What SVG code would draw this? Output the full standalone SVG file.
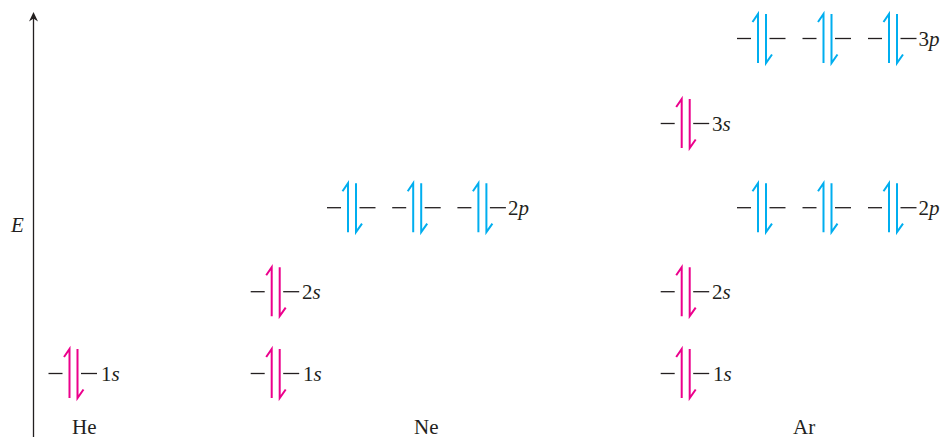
<svg xmlns="http://www.w3.org/2000/svg" xmlns:xlink="http://www.w3.org/1999/xlink" width="948" height="439" viewBox="0 0 948 439">
<style>
  .dash{stroke:#231F20;stroke-width:1.3;fill:none}
  .arr{fill:none;stroke:currentColor;stroke-width:2;stroke-linejoin:miter;stroke-miterlimit:10;stroke-linecap:butt}
  .s{color:#EC008C}
  .p{color:#00AEEF}
  .lbl{font-family:"Liberation Serif","Times New Roman",serif;font-size:21px;fill:#231F20}
  .it{font-style:italic}
  .axis{stroke:#231F20;stroke-width:1.3;fill:none}
</style>
<defs>
  <g id="pair">
    <line class="dash" x1="-21" y1="0" x2="-7" y2="0"/>
    <path class="arr" d="M0,24.5 V-24.5 L-5.5,-16.5"/>
    <path class="arr" d="M8,-24.5 V24.5 L14,16"/>
    <line class="dash" x1="11.5" y1="0" x2="27.5" y2="0"/>
  </g>
</defs>

<g id="axis">
  <line class="axis" x1="33.5" y1="437" x2="33.5" y2="16"/>
  <polygon points="33.5,12 29,21.5 33.5,18.5 38,21.5" fill="#231F20"/>
  <text class="lbl it" x="11" y="232">E</text>
</g>

<g id="he-1s" class="s">
  <use xlink:href="#pair" x="69.5" y="373.5"/>
  <text class="lbl" x="101" y="380.5">1<tspan class="it">s</tspan></text>
</g>
<text id="he-label" class="lbl" x="72" y="433.5">He</text>

<g id="ne-1s" class="s">
  <use xlink:href="#pair" x="271.7" y="373.5"/>
  <text class="lbl" x="303" y="380.5">1<tspan class="it">s</tspan></text>
</g>
<g id="ne-2s" class="s">
  <use xlink:href="#pair" x="271.7" y="291.7"/>
  <text class="lbl" x="302" y="298.7">2<tspan class="it">s</tspan></text>
</g>
<g id="ne-2p" class="p">
  <use xlink:href="#pair" x="348" y="207.7"/>
  <use xlink:href="#pair" x="413.2" y="207.7"/>
  <use xlink:href="#pair" x="478.4" y="207.7"/>
  <text class="lbl" x="508" y="214.7">2<tspan class="it">p</tspan></text>
</g>
<text id="ne-label" class="lbl" x="414" y="433.5">Ne</text>

<g id="ar-1s" class="s">
  <use xlink:href="#pair" x="681.7" y="373.5"/>
  <text class="lbl" x="713" y="380.5">1<tspan class="it">s</tspan></text>
</g>
<g id="ar-2s" class="s">
  <use xlink:href="#pair" x="681.7" y="291.7"/>
  <text class="lbl" x="712" y="298.7">2<tspan class="it">s</tspan></text>
</g>
<g id="ar-2p" class="p">
  <use xlink:href="#pair" x="758" y="207.7"/>
  <use xlink:href="#pair" x="823.5" y="207.7"/>
  <use xlink:href="#pair" x="889" y="207.7"/>
  <text class="lbl" x="918.5" y="214.7">2<tspan class="it">p</tspan></text>
</g>
<g id="ar-3s" class="s">
  <use xlink:href="#pair" x="681.7" y="123.5"/>
  <text class="lbl" x="712" y="130.5">3<tspan class="it">s</tspan></text>
</g>
<g id="ar-3p" class="p">
  <use xlink:href="#pair" x="758" y="38.5"/>
  <use xlink:href="#pair" x="823.5" y="38.5"/>
  <use xlink:href="#pair" x="889" y="38.5"/>
  <text class="lbl" x="918.5" y="45.5">3<tspan class="it">p</tspan></text>
</g>
<text id="ar-label" class="lbl" x="793" y="433.5">Ar</text>
</svg>
